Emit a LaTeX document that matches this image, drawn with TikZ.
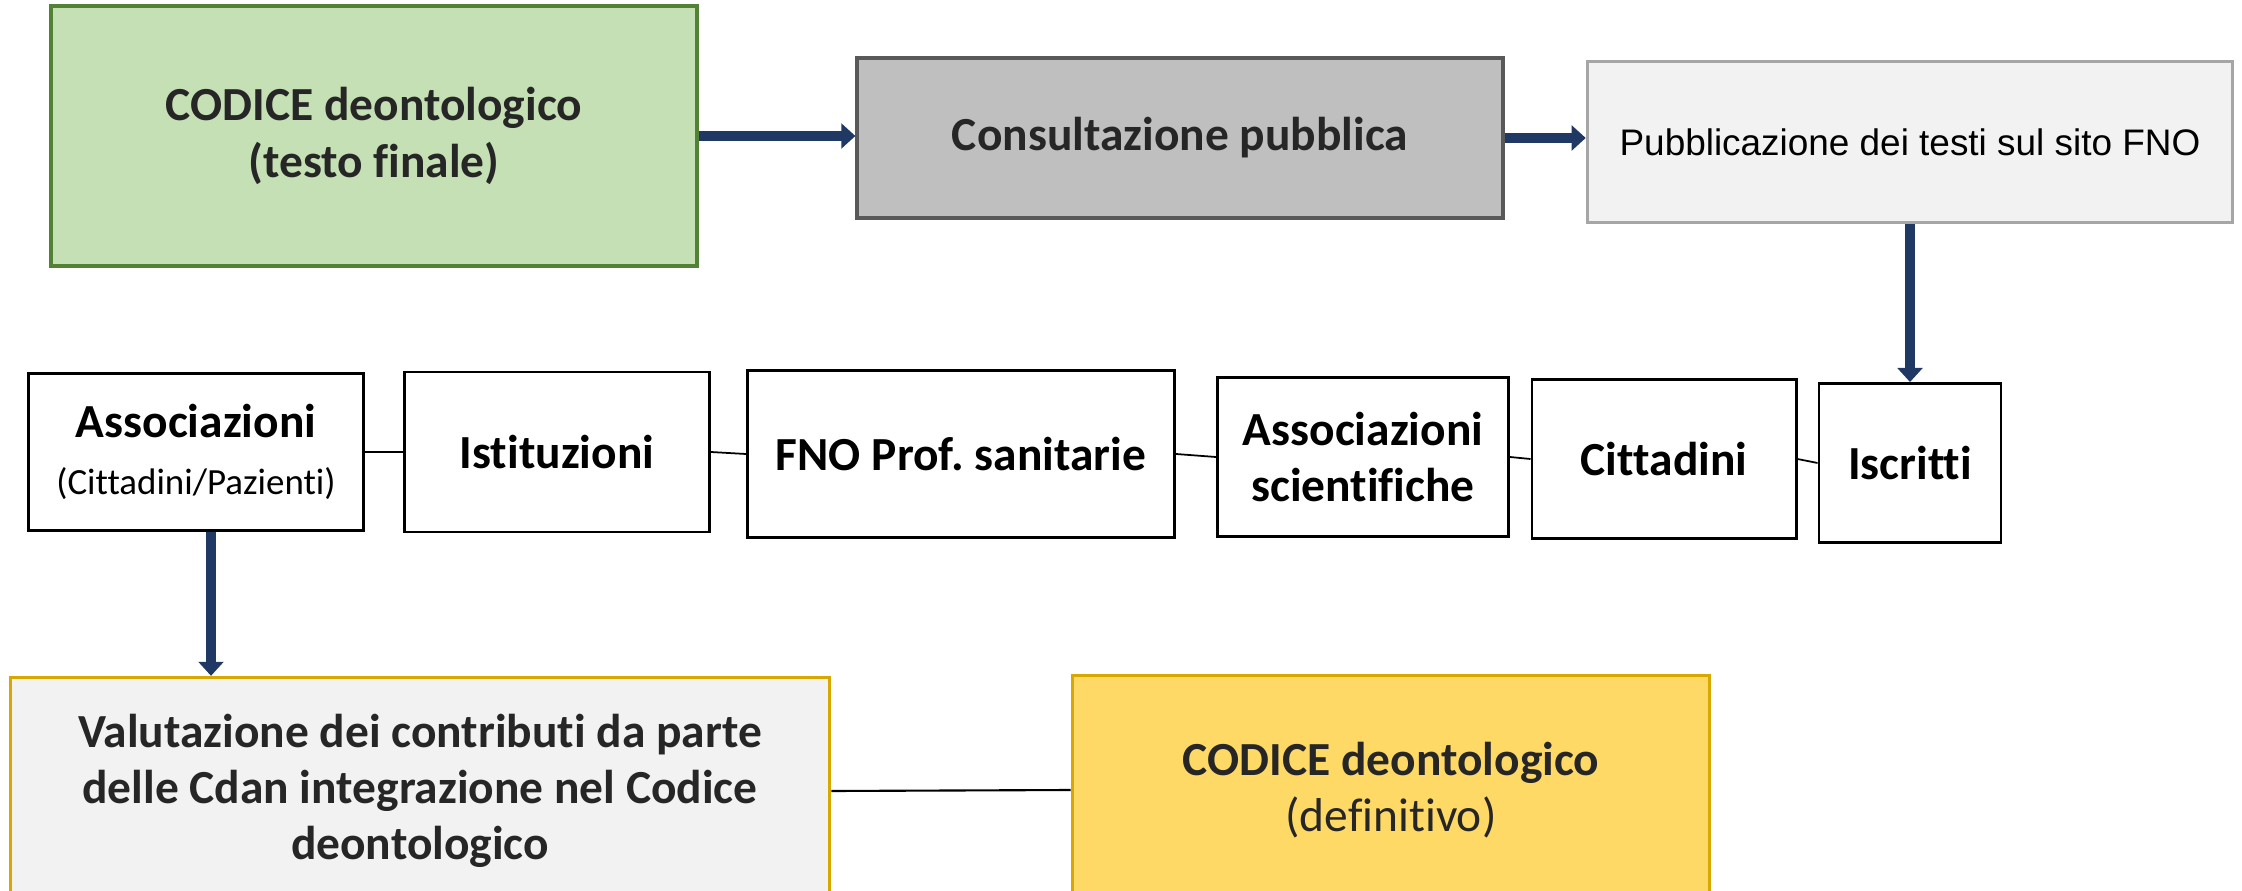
\documentclass[tikz,border=0pt]{standalone}
\usepackage{fontspec}
\setmainfont{Carlito}[Ligatures=NoCommon]
\newfontfamily\arialfont{Liberation Sans}
\usepackage{tikz}
\usetikzlibrary{arrows.meta}
\frenchspacing

\definecolor{verdechiaro}{HTML}{C5E0B4}
\definecolor{verdescuro}{HTML}{548235}
\definecolor{grigiomedio}{HTML}{BFBFBF}
\definecolor{grigioscuro}{HTML}{595959}
\definecolor{grigiochiaro}{HTML}{F2F2F2}
\definecolor{grigiobordo}{HTML}{A6A6A6}
\definecolor{blunotte}{HTML}{1F3864}
\definecolor{oro}{HTML}{D9A800}
\definecolor{giallo}{HTML}{FFD966}
\definecolor{testo}{HTML}{262626}

\tikzset{
  fase/.style={draw, line width=0.9pt, align=center, inner sep=0pt, font=\fontsize{13.5}{16}\selectfont\bfseries},
  ente/.style={draw=black, line width=0.8pt, align=center, inner sep=0pt, font=\fontsize{13.5}{16}\selectfont\bfseries},
  freccia/.style={color=blunotte, line width=2.9pt, -{Triangle[width=7pt,length=4pt]}},
  legame/.style={color=black, line width=0.5pt}
}

\begin{document}
\begin{tikzpicture}[x=0.01cm, y=-0.01cm]
  \useasboundingbox (0,0) rectangle (2242,891);

  % prima riga
  \node[fase, draw=verdescuro, fill=verdechiaro, text=testo, line width=1.2pt, minimum width=6.46cm, minimum height=2.6cm] (codice) at (374,136) {CODICE deontologico\\(testo finale)};
  \node[fase, draw=grigioscuro, fill=grigiomedio, text=testo, line width=1.1pt, minimum width=6.45cm, minimum height=1.6cm] (consultazione) at (1180,138) {Consultazione pubblica};
  \node[fase, draw=grigiobordo, fill=grigiochiaro, text=black, minimum width=6.45cm, minimum height=1.61cm, font=\arialfont\fontsize{10.5}{12}\selectfont] (pubblicazione) at (1910,142) {Pubblicazione dei testi sul sito FNO};

  \draw[freccia] (codice.east) -- (codice.east -| consultazione.west);
  \draw[freccia] (consultazione.east) -- (consultazione.east -| pubblicazione.west);

  % soggetti consultati
  \node[ente, minimum width=3.34cm, minimum height=1.57cm] (associazioni) at (196,452) {Associazioni\\{\mdseries\fontsize{10.5}{13}\selectfont(Cittadini/Pazienti)}};
  \node[ente, minimum width=3.05cm, minimum height=1.6cm] (istituzioni) at (557,452) {Istituzioni};
  \node[ente, minimum width=4.27cm, minimum height=1.67cm] (fno) at (961,454) {FNO Prof. sanitarie};
  \node[ente, minimum width=2.91cm, minimum height=1.59cm] (scientifiche) at (1363,457) {Associazioni\\scientifiche};
  \node[ente, minimum width=2.64cm, minimum height=1.59cm] (cittadini) at (1664,459) {Cittadini};
  \node[ente, minimum width=1.82cm, minimum height=1.59cm] (iscritti) at (1910,463) {Iscritti};

  \draw[legame] (associazioni.east) -- (istituzioni.west);
  \draw[legame] (istituzioni.east) -- (fno.west);
  \draw[legame] (fno.east) -- (scientifiche.west);
  \draw[legame] (scientifiche.east) -- (cittadini.west);
  \draw[legame] (cittadini.east) -- (iscritti.west);

  \draw[freccia] (pubblicazione.south) -- (iscritti.north);

  % esito
  \node[fase, draw=oro, fill=grigiochiaro, text=testo, minimum width=8.19cm, minimum height=2.27cm] (valutazione) at (420,791) {Valutazione dei contributi da parte\\delle Cdan integrazione nel Codice\\deontologico};
  \node[fase, draw=oro, fill=giallo, text=testo, minimum width=6.37cm, minimum height=2.29cm] (definitivo) at (1391,790) {CODICE deontologico\\{\mdseries(definitivo)}};

  \draw[freccia] ([xshift=0.15cm]associazioni.south) -- ([xshift=0.15cm]associazioni.south |- valutazione.north);
  \draw[legame, line width=0.6pt] (valutazione.east) -- (definitivo.west);
\end{tikzpicture}
\end{document}
